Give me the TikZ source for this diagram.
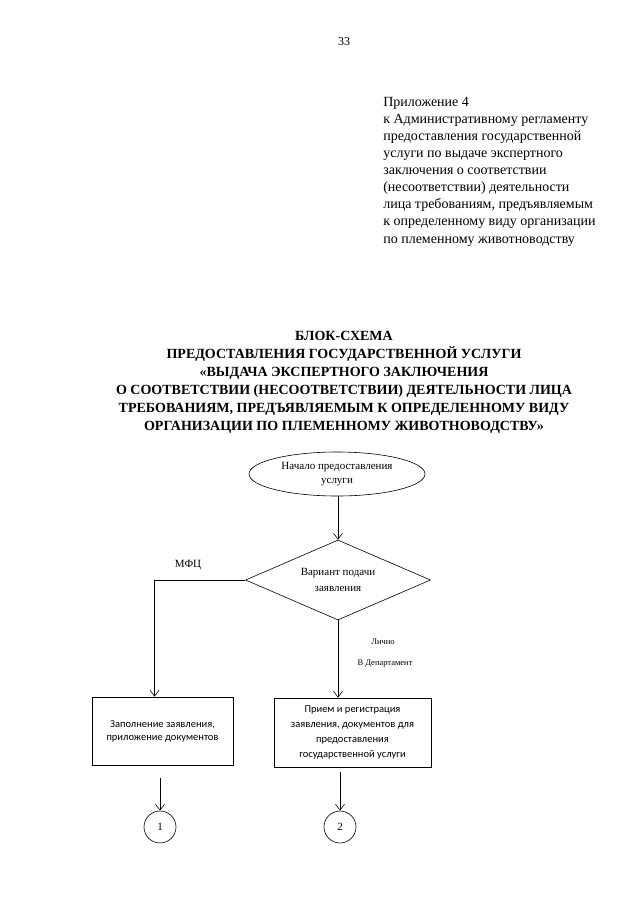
\documentclass[tikz,border=0pt]{standalone}
\usepackage{fontspec}
\setmainfont{Liberation Serif}[BoldFont={Liberation Serif Bold}]
\newfontfamily\boxfont{Carlito}
\usetikzlibrary{shapes.geometric,arrows.meta}

\begin{document}
\begin{tikzpicture}[x=1pt, y=-1pt, every path/.style={line width=0.6pt},
  >={Straight Barb[length=6pt,width=9pt]},
  startnode/.style={draw, ellipse, minimum width=176pt, minimum height=44pt, inner sep=0pt, align=center, font=\fontsize{11}{14}\selectfont},
  choicenode/.style={draw, diamond, aspect=2.31, minimum width=185pt, minimum height=80pt, inner sep=0pt, align=center, font=\fontsize{11}{16}\selectfont},
  stepbox/.style={draw, rectangle, inner sep=0pt, align=center},
  linkcircle/.style={draw, circle, minimum size=32pt, inner sep=0pt, font=\fontsize{11}{13}\selectfont},
  lbl/.style={inner sep=0pt}]
	\useasboundingbox (0,0) rectangle (640,905);
	\node[lbl, font=\fontsize{12}{14}\selectfont] (page) at (344,42) {33};
	\node[lbl, anchor=west, align=left, font=\fontsize{14}{17.1}\selectfont] (annex) at (383,171.5) {Приложение 4\\к Административному регламенту\\предоставления государственной\\услуги по выдаче экспертного\\заключения о соответствии\\(несоответствии) деятельности\\лица требованиям, предъявляемым\\к определенному виду организации\\по племенному животноводству};
	\node[lbl, align=center, font=\bfseries\fontsize{14}{18}\selectfont] (title) at (344,382) {БЛОК-СХЕМА\\ПРЕДОСТАВЛЕНИЯ ГОСУДАРСТВЕННОЙ УСЛУГИ\\«ВЫДАЧА ЭКСПЕРТНОГО ЗАКЛЮЧЕНИЯ\\О СООТВЕТСТВИИ (НЕСООТВЕТСТВИИ) ДЕЯТЕЛЬНОСТИ ЛИЦА\\ТРЕБОВАНИЯМ, ПРЕДЪЯВЛЯЕМЫМ К ОПРЕДЕЛЕННОМУ ВИДУ\\ОРГАНИЗАЦИИ ПО ПЛЕМЕННОМУ ЖИВОТНОВОДСТВУ»};
	\node[startnode] (start) at (337,474) {Начало предоставления\\услуги};
	\node[choicenode] (choice) at (338,580) {Вариант подачи\\заявления};
	\node[stepbox, minimum width=141pt, minimum height=68pt, font=\boxfont\fontsize{10.5}{13}\selectfont] (fill) at (162.5,731) {Заполнение заявления,\\приложение документов};
	\node[stepbox, minimum width=157pt, minimum height=69pt, font=\boxfont\fontsize{10.5}{15}\selectfont] (reg) at (352.5,732.5) {Прием и регистрация\\заявления, документов для\\предоставления\\государственной услуги};
	\node[linkcircle] (c1) at (160,827) {1};
	\node[linkcircle] (c2) at (340,827) {2};
	\node[lbl, font=\fontsize{11}{13}\selectfont] (mfc) at (188,565) {МФЦ};
	\node[lbl, font=\fontsize{8.5}{10}\selectfont] (self) at (383,642) {Лично};
	\node[lbl, font=\fontsize{8.5}{10}\selectfont] (dept) at (385,664) {В Департамент};
	\draw[->] (start.south -| choice) -- (choice);
	\draw[->] (choice.west) -| ([xshift=-8pt]fill.north);
	\draw[->] (choice.south) -- (choice.south |- reg.north);
	\draw[->, shorten <=13pt] (fill.south -| c1) -- (c1);
	\draw[->, shorten <=5pt] (reg.south -| c2) -- (c2);
\end{tikzpicture}
\end{document}
